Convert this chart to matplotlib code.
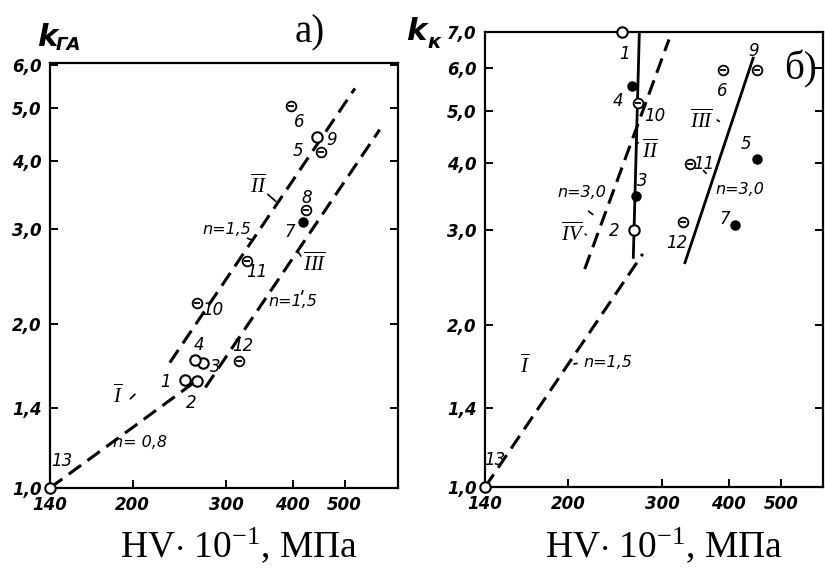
#! /usr/bin/env python3
"""
Hardening coefficient vs hardness, two log-log panels a) and b)
"""
import matplotlib
matplotlib.use("Agg")
import matplotlib.pyplot as plt
from matplotlib.ticker import FixedLocator, NullLocator

plt.rcParams['mathtext.fontset'] = 'custom'
plt.rcParams['mathtext.rm'] = 'Liberation Serif'
plt.rcParams['mathtext.it'] = 'Liberation Serif:italic'

# ---------------------------------------------------------------------------
# data

x_ticks = [140, 200, 300, 400, 500]
x_tick_labels = ['140', '200', '300', '400', '500']
a_y_ticks = [1.0, 1.4, 2.0, 3.0, 4.0, 5.0, 6.0]
b_y_ticks = [1.0, 1.4, 2.0, 3.0, 4.0, 5.0, 6.0, 7.0]

# panel a) points
a_num = ['1', '2', '3', '4', '5', '6', '7', '8', '9', '10', '11', '12', '13']
a_hv = [251, 264, 271, 262, 452, 396, 418, 423, 444, 264, 328, 317, 140]
a_k = [1.58, 1.57, 1.70, 1.72, 4.14, 5.05, 3.08, 3.24, 4.43, 2.19, 2.61, 1.71, 1.0]

# panel a) lines
a_I_hv = [140, 265]
a_I_k = [1.0, 1.58]
a_II_hv = [235, 523]
a_II_k = [1.70, 5.43]
a_III_hv = [274, 582]
a_III_k = [1.53, 4.56]

# panel b) points (no 8)
b_num = ['1', '2', '3', '4', '5', '6', '7', '9', '10', '11', '12', '13']
b_hv = [252, 266, 268, 264, 452, 390, 411, 451, 270, 338, 328, 140]
b_k = [7.0, 3.0, 3.47, 5.55, 4.07, 5.94, 3.07, 5.94, 5.16, 3.98, 3.10, 1.0]

# panel b) lines
b_I_hv = [140, 276]
b_I_k = [1.0, 2.71]
b_II_hv = [272, 265]
b_II_k = [7.0, 2.67]
b_III_hv = [331, 444]
b_III_k = [2.61, 6.26]
b_IV_hv = [215, 309]
b_IV_k = [2.54, 6.78]

# ---------------------------------------------------------------------------

HAND = dict(family='DejaVu Sans', style='italic')
DASH = (0, (5, 2.6))


def roman(s):
    return r'$\overline{\mathit{' + s + '}}$'


def setup_axes(ax, xlim, ylim, yticks):
    ax.set_xscale('log')
    ax.set_yscale('log')
    ax.set_xlim(*xlim)
    ax.set_ylim(*ylim)
    ax.xaxis.set_major_locator(FixedLocator(x_ticks))
    ax.xaxis.set_minor_locator(NullLocator())
    ax.set_xticklabels(x_tick_labels)
    ax.yaxis.set_major_locator(FixedLocator(yticks))
    ax.yaxis.set_minor_locator(NullLocator())
    ax.set_yticklabels([('%.1f' % v).replace('.', ',') for v in yticks])
    ax.tick_params(direction='in', length=6, width=1.4, right=True,
                   labelsize=12, pad=6)
    for lab in ax.get_xticklabels() + ax.get_yticklabels():
        lab.set_fontstyle('italic')
        lab.set_fontweight('bold')
    for sp in ax.spines.values():
        sp.set_linewidth(1.6)


def draw_points(ax, hv, k, nums, open_set, filled_set, offsets):
    for x, y, n in zip(hv, k, nums):
        if n in filled_set:
            ax.plot(x, y, 'o', ms=6.5, mfc='black', mec='black', clip_on=False, zorder=5)
        elif n in open_set:
            ax.plot(x, y, 'o', ms=7.5, mfc='white', mec='black', mew=1.5, clip_on=False, zorder=5)
        else:
            ax.plot(x, y, 'o', ms=7, mfc='white', mec='black', mew=1.3, clip_on=False, zorder=5)
            ax.plot(x, y, '_', ms=4, mec='black', mew=1.3, clip_on=False, zorder=6)
        dx, dy = offsets[n]
        ax.annotate(n, (x, y), xytext=(dx, dy), textcoords='offset pixels',
                    ha='center', va='center', fontsize=12, **HAND)


def leader(ax, p0, p1):
    ax.annotate('', xy=p1, xytext=p0, xycoords='axes fraction',
                textcoords='axes fraction',
                arrowprops=dict(arrowstyle='-', lw=1.2, color='black'))


fig = plt.figure(figsize=(8.25, 5.72), dpi=100)

# ---------------------------------------------------------------------- a)
ax1 = fig.add_axes([0.0606, 0.147, 0.4218, 0.743])
setup_axes(ax1, (140, 630), (1.0, 6.05), a_y_ticks)

ax1.plot(a_I_hv, a_I_k, color='black', lw=2.2, ls=DASH)
ax1.plot(a_II_hv, a_II_k, color='black', lw=2.2, ls=DASH)
ax1.plot(a_III_hv, a_III_k, color='black', lw=2.2, ls=DASH)

a_offsets = {'1': (-20, -2), '2': (-5, -22), '3': (12, -4), '4': (4, 15),
             '5': (-23, 1), '6': (9, -16), '7': (-13, -10), '8': (1, 12),
             '9': (15, -3), '10': (16, -7), '11': (10, -11), '12': (4, 15),
             '13': (12, 27)}
draw_points(ax1, a_hv, a_k, a_num, open_set={'1', '2', '3', '4', '9', '13'},
            filled_set={'7'}, offsets=a_offsets)

ax1.text(0.195, 0.219, roman('I'), transform=ax1.transAxes, fontsize=15, ha='center', va='center')
ax1.text(0.259, 0.106, 'n= 0,8', transform=ax1.transAxes, fontsize=11.5, ha='center', va='center', **HAND)
ax1.text(0.598, 0.713, roman('II'), transform=ax1.transAxes, fontsize=15, ha='center', va='center')
ax1.text(0.509, 0.607, 'n=1,5', transform=ax1.transAxes, fontsize=11.5, ha='center', va='center', **HAND)
ax1.text(0.761, 0.529, roman('III'), transform=ax1.transAxes, fontsize=15, ha='center', va='center')
ax1.text(0.698, 0.438, 'n=1,5', transform=ax1.transAxes, fontsize=11.5, ha='center', va='center', **HAND)
leader(ax1, (0.225, 0.205), (0.25, 0.225))
leader(ax1, (0.62, 0.695), (0.655, 0.67))
leader(ax1, (0.56, 0.59), (0.59, 0.58))
leader(ax1, (0.725, 0.54), (0.71, 0.56))
leader(ax1, (0.72, 0.45), (0.73, 0.47))

fig.text(0.376, 0.942, 'а)', fontsize=28, family='Liberation Serif', ha='center', va='center')
fig.text(0.057, 0.935, 'k', fontsize=22, fontweight='bold', ha='center', va='center', **HAND)
fig.text(0.083, 0.922, 'ГА', fontsize=13, fontweight='bold', ha='center', va='center', **HAND)
fig.text(0.29, 0.047, r'HV$\cdot$ 10$^{-1}$, МПа', fontsize=27,
         family='Liberation Serif', ha='center', va='center')

# ---------------------------------------------------------------------- b)
ax2 = fig.add_axes([0.588, 0.1486, 0.4097, 0.7954])
setup_axes(ax2, (140, 600), (1.0, 7.0), b_y_ticks)

ax2.plot(b_I_hv, b_I_k, color='black', lw=2.2, ls=DASH)
ax2.plot(b_II_hv, b_II_k, color='black', lw=2.0)
ax2.plot(b_III_hv, b_III_k, color='black', lw=2.0)
ax2.plot(b_IV_hv, b_IV_k, color='black', lw=2.2, ls=DASH)

b_offsets = {'1': (3, -22), '2': (-20, -1), '3': (6, 15), '4': (-14, -15),
             '5': (-11, 15), '6': (-1, -21), '7': (-10, 6), '9': (-3, 19),
             '10': (17, -13), '11': (14, 0), '12': (-6, -21), '13': (10, 27)}
draw_points(ax2, b_hv, b_k, b_num, open_set={'1', '2', '13'},
            filled_set={'3', '4', '5', '7'}, offsets=b_offsets)

ax2.text(0.118, 0.268, roman('I'), transform=ax2.transAxes, fontsize=15, ha='center', va='center')
ax2.text(0.364, 0.273, 'n=1,5', transform=ax2.transAxes, fontsize=11.5, ha='center', va='center', **HAND)
ax2.text(0.488, 0.741, roman('II'), transform=ax2.transAxes, fontsize=15, ha='center', va='center')
ax2.text(0.287, 0.648, 'n=3,0', transform=ax2.transAxes, fontsize=11.5, ha='center', va='center', **HAND)
ax2.text(0.260, 0.558, roman('IV'), transform=ax2.transAxes, fontsize=15, ha='center', va='center')
ax2.text(0.642, 0.807, roman('III'), transform=ax2.transAxes, fontsize=15, ha='center', va='center')
ax2.text(0.754, 0.653, 'n=3,0', transform=ax2.transAxes, fontsize=11.5, ha='center', va='center', **HAND)
leader(ax2, (0.28, 0.272), (0.255, 0.27))
leader(ax2, (0.46, 0.76), (0.44, 0.75))
leader(ax2, (0.29, 0.56), (0.305, 0.55))
leader(ax2, (0.30, 0.61), (0.325, 0.595))
leader(ax2, (0.68, 0.81), (0.7, 0.80))
leader(ax2, (0.66, 0.685), (0.64, 0.70))

fig.text(0.970, 0.878, 'б)', fontsize=28, family='Liberation Serif', ha='center', va='center')
fig.text(0.505, 0.945, 'k', fontsize=22, fontweight='bold', ha='center', va='center', **HAND)
fig.text(0.526, 0.926, 'к', fontsize=14, fontweight='bold', ha='center', va='center', **HAND)
fig.text(0.805, 0.047, r'HV$\cdot$ 10$^{-1}$, МПа', fontsize=27,
         family='Liberation Serif', ha='center', va='center')

fig.savefig('out.png', dpi=100)
